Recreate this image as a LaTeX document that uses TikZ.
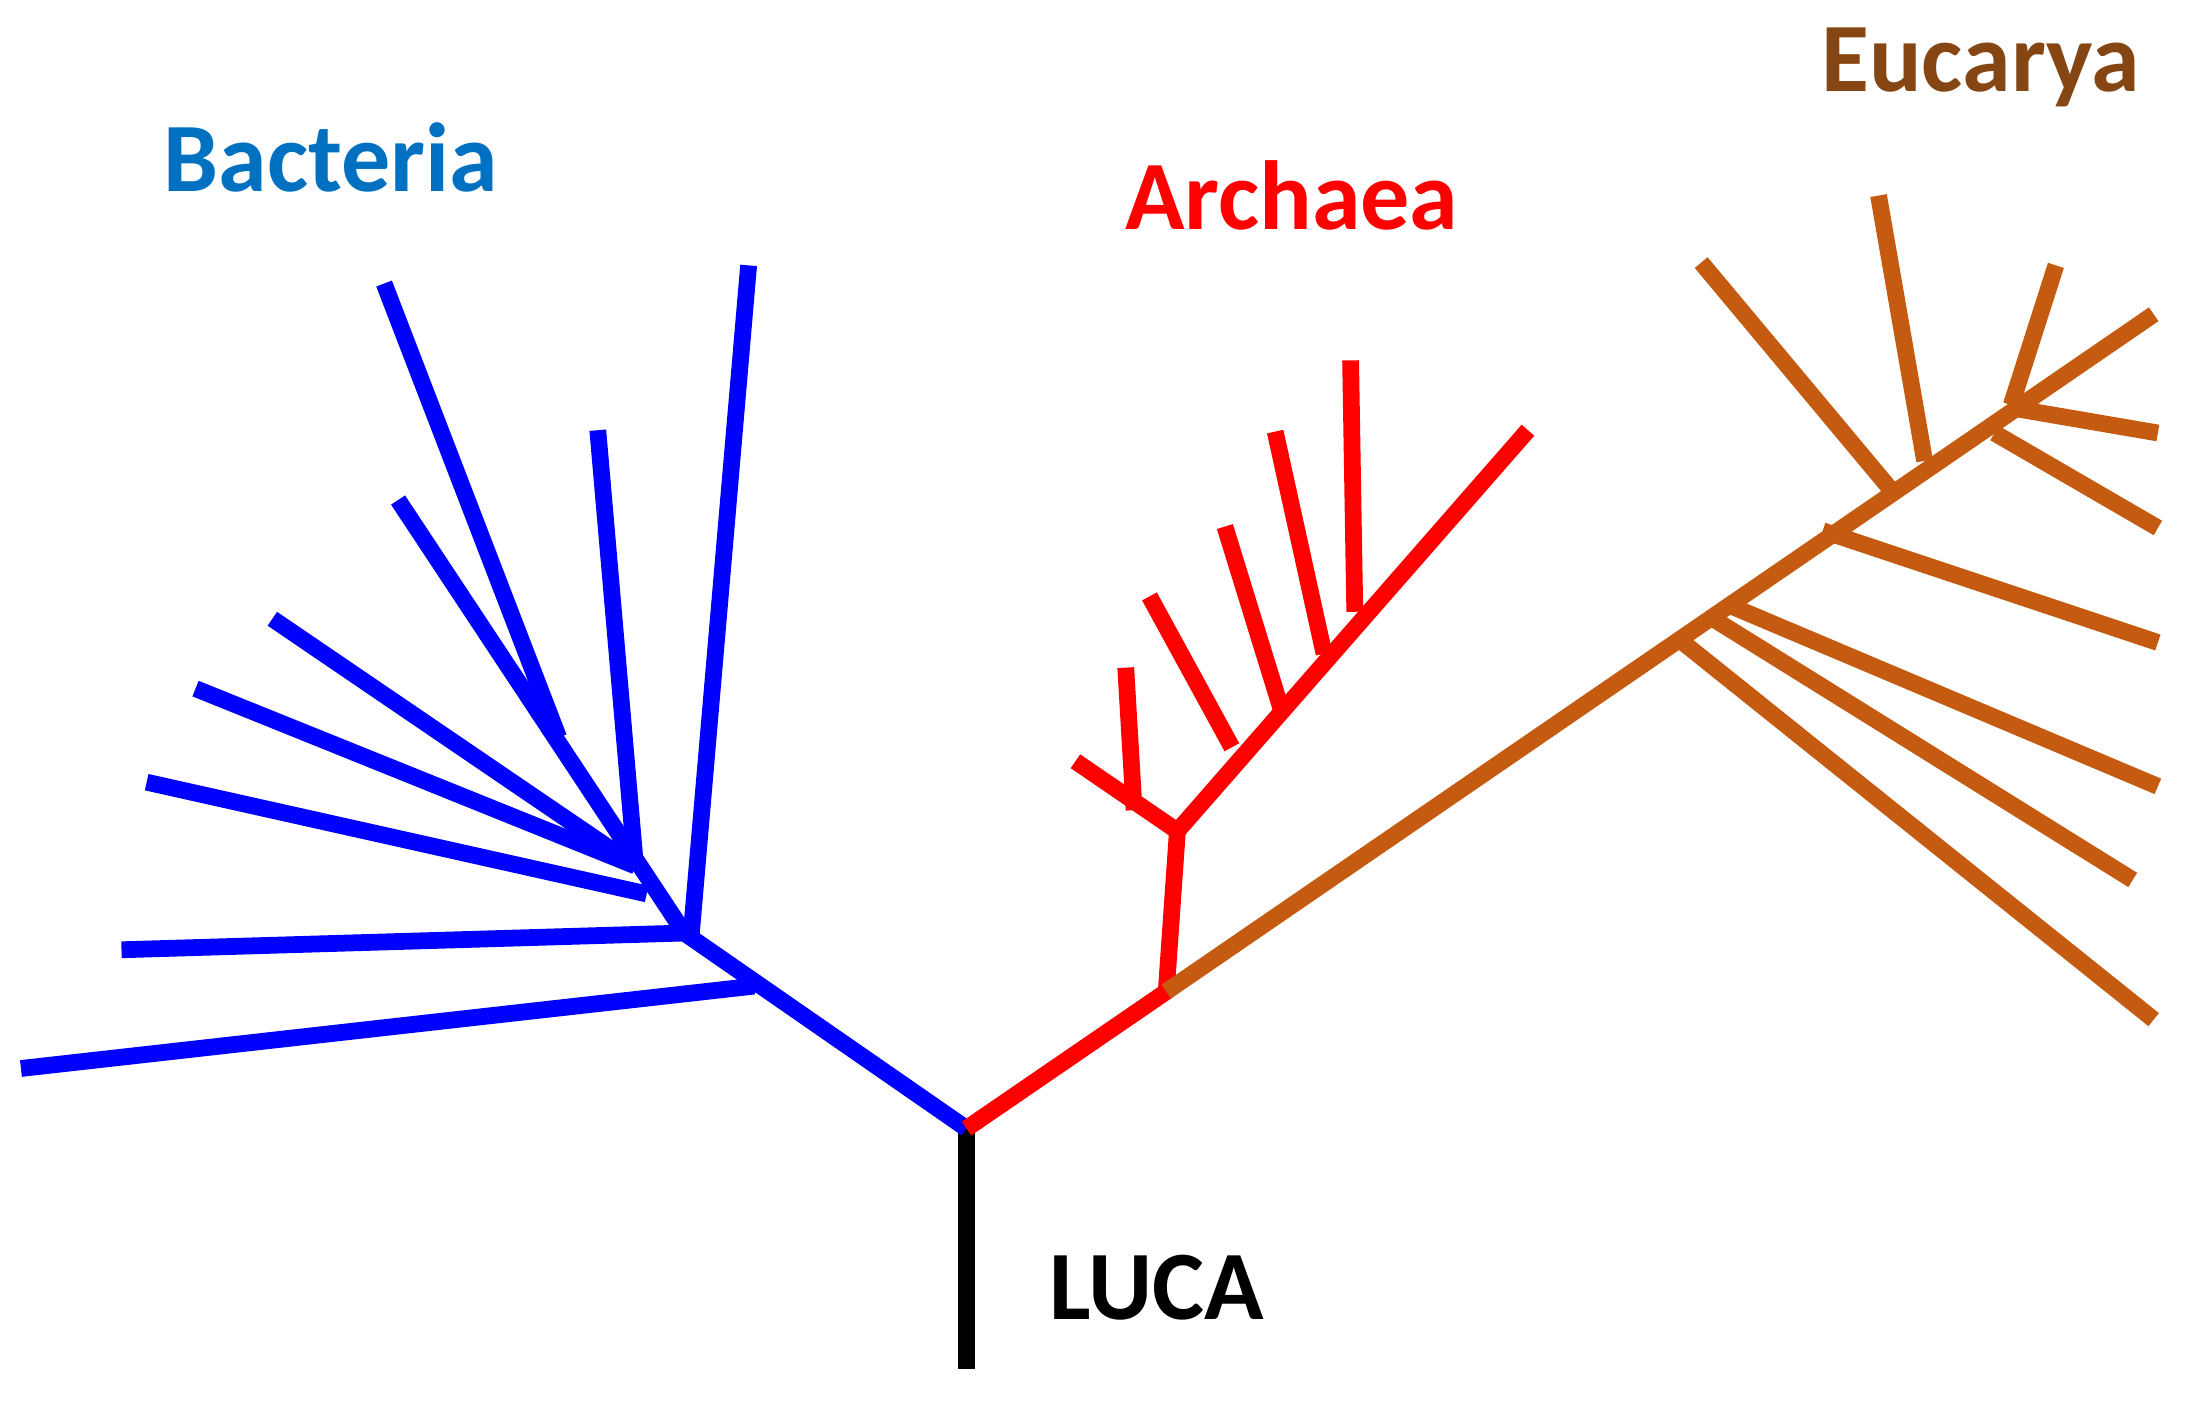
\documentclass[tikz,border=0pt]{standalone}
\usepackage{fontspec}
\setmainfont{Carlito}
\definecolor{bact}{RGB}{0,112,192}
\definecolor{eub}{RGB}{197,90,17}
\definecolor{eut}{RGB}{133,70,20}
\begin{document}
\begin{tikzpicture}[x=0.1mm,y=-0.1mm,
  br/.style={line width=1.2mm},
  lab/.style={font=\bfseries\fontsize{20}{24}\selectfont,anchor=center}]
\useasboundingbox (0,0) rectangle (1568,1008);
% coordinates
\coordinate (root) at (692,808);
\coordinate (base) at (692,980);
\coordinate (bA) at (490,668);
\coordinate (bT) at (540,706);
\coordinate (aA) at (835,710);
\coordinate (aB) at (843,595);
\coordinate (aE) at (1094,308);
\coordinate (eE) at (1542,225);
\draw[br] (base) -- (root);
% Bacteria
\begin{scope}[br,blue]
\draw (root) -- (bA);
\draw (bT) -- (15,765);
\draw (bA) -- (87,680);
\draw (bA) -- (285,358);
\coordinate (bs) at (400,528);
\draw (bs) -- (275,203);
\coordinate (bn) at (455,620);
\draw (463,640) -- (105,560);
\draw (bn) -- (140,493);
\draw (bn) -- (195,443);
\draw (bn) -- (428,308);
\draw (495,668) -- (536,190);
\end{scope}
% Archaea
\begin{scope}[br,red]
\draw (root) -- (aA) -- (aB) -- (aE);
\draw (aB) -- (770,545);
\draw (812,580) -- (806,478);
\draw (882,535) -- (823,427);
\draw (918,510) -- (877,377);
\draw (948,468) -- (913,309);
\draw (970,438) -- (967,258);
\end{scope}
% Eucarya
\begin{scope}[br,eub]
\draw (aA) -- (eE);
\draw (1205,460) -- (1542,730);
\draw (1225,442) -- (1527,630);
\draw (1235,432) -- (1545,563);
\draw (1305,380) -- (1545,460);
\draw (1355,352) -- (1218,188);
\draw (1378,330) -- (1345,140);
\draw (1440,290) -- (1472,190);
\draw (1440,292) -- (1545,310);
\draw (1428,310) -- (1545,378);
\end{scope}
\node[lab,bact] (tb) at (237,113) {Bacteria};
\node[lab,red] (ta) at (925,140) {Archaea};
\node[lab,eut] (te) at (1418,48) {Eucarya};
\node[lab,black] (tl) at (828,922) {LUCA};
\end{tikzpicture}
\end{document}
